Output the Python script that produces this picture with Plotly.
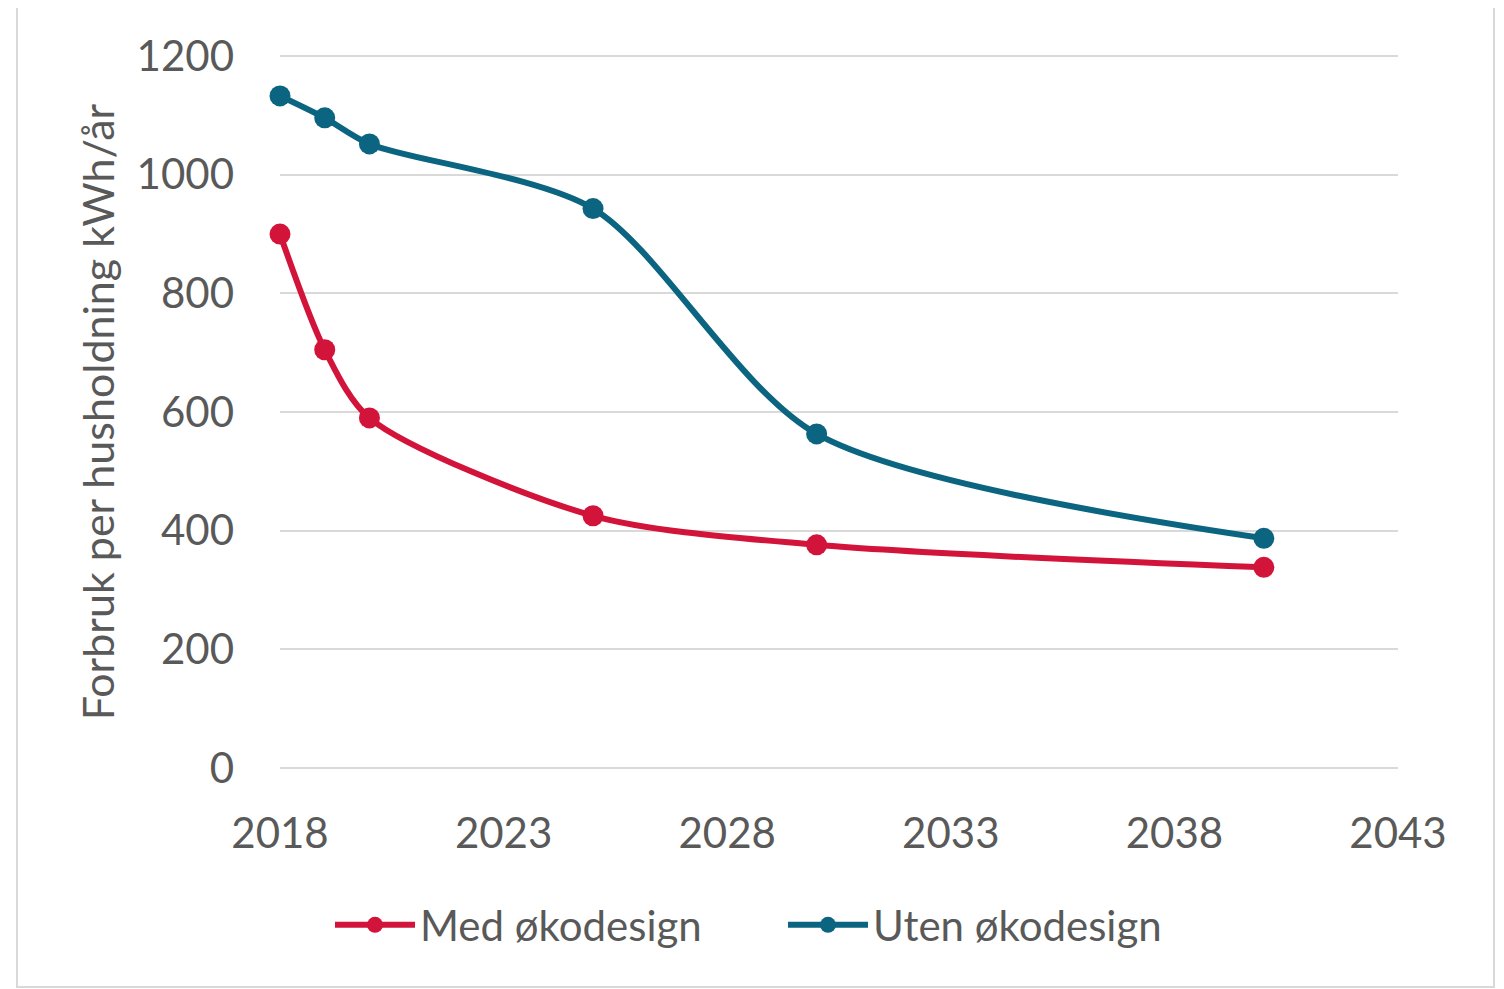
import plotly.graph_objects as go

years = [2018, 2019, 2020, 2025, 2030, 2040]
med_okodesign = [900, 705, 590, 425, 376, 338]
uten_okodesign = [1133, 1096, 1052, 943, 563, 387]

red = "#D2143A"
blue = "#0B6580"
font_family = "Lato, 'Open Sans', sans-serif"
gray = "#595959"

# page body has 8px default margin; compensate
OFF = 8
PL, PR = 280 - OFF, 1398 - OFF   # plot area x in page
PT, PB = 55 - OFF, 769 - OFF     # plot area y in page
W, H = 1496, 981
PW, PH = PR - PL, PB - PT

fig = go.Figure()
fig.add_trace(go.Scatter(
    x=years, y=med_okodesign, name="Med økodesign",
    mode="lines+markers", line=dict(color=red, width=6, shape="spline", smoothing=0.8),
    marker=dict(size=21, color=red), cliponaxis=False,
))
fig.add_trace(go.Scatter(
    x=years, y=uten_okodesign, name="Uten økodesign",
    mode="lines+markers", line=dict(color=blue, width=6, shape="spline", smoothing=0.8),
    marker=dict(size=21, color=blue), cliponaxis=False,
))

fig.update_layout(
    width=W, height=H,
    margin=dict(l=PL, r=W - PR, t=PT, b=H - PB, pad=0),
    paper_bgcolor="white", plot_bgcolor="white",
    font=dict(family=font_family, color=gray, size=42),
    showlegend=True,
    legend=dict(orientation="h", x=0.5 - 56 / PW, xanchor="center", y=-156 / PH, yanchor="middle",
                font=dict(size=42, color=gray), itemwidth=80, entrywidth=358,
                traceorder="normal"),
    xaxis=dict(range=[2018, 2043], tickvals=[2018, 2023, 2028, 2033, 2038, 2043],
               showgrid=False, zeroline=False, showline=False, ticks="",
               ticklabelstandoff=36, tickfont=dict(size=42, color=gray)),
    yaxis=dict(range=[-2, 1202], tickvals=[0, 200, 400, 600, 800, 1000, 1200],
               showgrid=True, gridcolor="#D9D9D9", gridwidth=2, zeroline=False,
               showline=False, ticks="", ticklabelstandoff=45,
               tickfont=dict(size=42, color=gray),
               title=dict(text="Forbruk per husholdning kWh/år", font=dict(size=43, color=gray),
                          standoff=8)),
    shapes=[dict(type="rect", xref="paper", yref="paper",
                 x0=(17 - OFF - PL) / PW, x1=(1494 - OFF - PL) / PW,
                 y0=(PB - (987 - OFF)) / PH, y1=(PB - (6 - OFF)) / PH,
                 line=dict(color="#D9D9D9", width=2), layer="below")],
)

fig.write_html("out.html")
